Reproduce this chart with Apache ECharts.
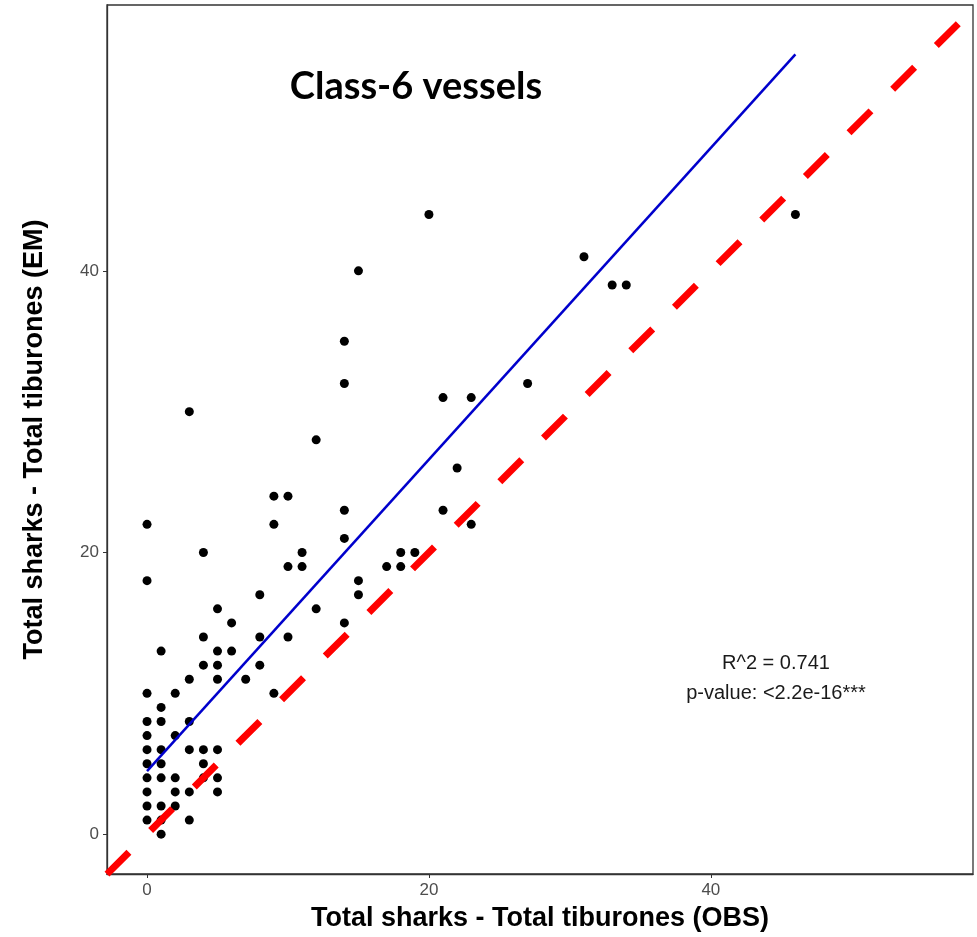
<!doctype html>
<html>
<head>
  <meta charset="UTF-8" />
  <title>Class-6 vessels</title>
  <script src="https://cdn.jsdelivr.net/npm/echarts@6.0.0/dist/echarts.min.js"></script>
  <style>
    html, body { margin: 0; padding: 0; background: #ffffff; }
    #chart { width: 977px; height: 937px; }
  </style>
</head>
<body>
  <div id="chart"></div>
  <script>
    const obsX = [
      0, 0, 0, 0, 0, 0, 0, 0, 0, 0, 0,
      1, 1, 1, 1, 1, 1, 1, 1, 1,
      2, 2, 2, 2, 2,
      3, 3, 3, 3, 3, 3,
      4, 4, 4, 4, 4, 4,
      5, 5, 5, 5, 5, 5, 5,
      6, 6,
      7,
      8, 8, 8,
      9, 9, 9,
      10, 10, 10,
      11, 11,
      12, 12,
      14, 14, 14, 14, 14,
      15, 15, 15,
      17,
      18, 18,
      19,
      20,
      21, 21,
      22,
      23, 23,
      27,
      31,
      33,
      34,
      46
    ];
    const emY = [
      22, 18, 10, 8, 7, 6, 5, 4, 3, 2, 1,
      13, 9, 8, 6, 5, 4, 2, 1, 0,
      10, 7, 4, 3, 2,
      30, 11, 8, 6, 3, 1,
      20, 14, 12, 6, 5, 4,
      16, 13, 12, 11, 6, 4, 3,
      15, 13,
      11,
      17, 14, 12,
      24, 22, 10,
      24, 19, 14,
      20, 19,
      28, 16,
      35, 32, 23, 21, 15,
      40, 18, 17,
      19,
      20, 19,
      20,
      44,
      31, 23,
      26,
      31, 22,
      32,
      41,
      39,
      39,
      44
    ];

    // fitted regression line (blue), end points
    const fitX = [0, 46];
    const fitY = [4.48, 55.38];

    // axis limits and ticks
    const xLimits = [-2.84, 58.6];
    const yLimits = [-2.83, 58.88];
    const tickValues = [0, 20, 40];

    const titleText = "Class-6 vessels";
    const xName = "Total sharks - Total tiburones (OBS)";
    const yName = "Total sharks - Total tiburones (EM)";
    const statLines = ["R^2 = 0.741", "p-value: <2.2e-16***"];

    const points = obsX.map((x, i) => [x, emY[i]]);
    const fitLine = fitX.map((x, i) => [x, fitY[i]]);
    const identityLine = xLimits.map((v) => [v, v]);

    const chart = echarts.init(document.getElementById("chart"));

    const axisCommon = {
      type: "value",
      axisLine: { show: true, onZero: false, lineStyle: { color: "#333333", width: 1.3 } },
      axisTick: { show: true, length: 4, customValues: tickValues, lineStyle: { color: "#333333" } },
      axisLabel: {
        customValues: tickValues,
        color: "#4d4d4d",
        fontFamily: "Liberation Sans",
        fontSize: 17,
        margin: 8,
      },
      splitLine: { show: false },
      nameLocation: "middle",
      nameTextStyle: {
        color: "#000000",
        fontFamily: "Liberation Sans",
        fontWeight: "bold",
        fontSize: 27,
      },
    };

    const option = {
      animation: false,
      backgroundColor: "#ffffff",
      grid: {
        left: 107,
        right: 4,
        top: 5,
        bottom: 63,
        show: true,
        borderColor: "#333333",
        borderWidth: 1.3,
        backgroundColor: "#ffffff",
        outerBoundsMode: "none",
      },
      xAxis: {
        ...axisCommon,
        min: xLimits[0],
        max: xLimits[1],
        name: xName,
        nameGap: 31,
      },
      yAxis: {
        ...axisCommon,
        min: yLimits[0],
        max: yLimits[1],
        name: yName,
        nameGap: 59,
      },
      graphic: [
        {
          type: "text",
          x: 416,
          y: 87,
          style: {
            text: titleText,
            align: "center",
            verticalAlign: "middle",
            fill: "#000000",
            font: "bold 38px Lato",
          },
        },
        {
          type: "text",
          x: 776,
          y: 663,
          style: {
            text: statLines[0],
            align: "center",
            verticalAlign: "middle",
            fill: "#1a1a1a",
            font: "20px 'Liberation Sans'",
          },
        },
        {
          type: "text",
          x: 776,
          y: 693,
          style: {
            text: statLines[1],
            align: "center",
            verticalAlign: "middle",
            fill: "#1a1a1a",
            font: "20px 'Liberation Sans'",
          },
        },
      ],
      series: [
        {
          name: "obs",
          type: "scatter",
          data: points,
          symbol: "circle",
          symbolSize: 9,
          itemStyle: { color: "#000000", opacity: 1 },
          silent: true,
          z: 3,
        },
        {
          name: "fit",
          type: "line",
          data: fitLine,
          symbol: "none",
          lineStyle: { color: "#0000cc", width: 2.5 },
          silent: true,
          z: 4,
        },
        {
          name: "identity",
          type: "line",
          data: identityLine,
          symbol: "none",
          lineStyle: { color: "#ff0000", width: 7, type: [31, 30.7], cap: "butt" },
          silent: true,
          z: 5,
        },
      ],
    };

    chart.setOption(option);
  </script>
</body>
</html>
